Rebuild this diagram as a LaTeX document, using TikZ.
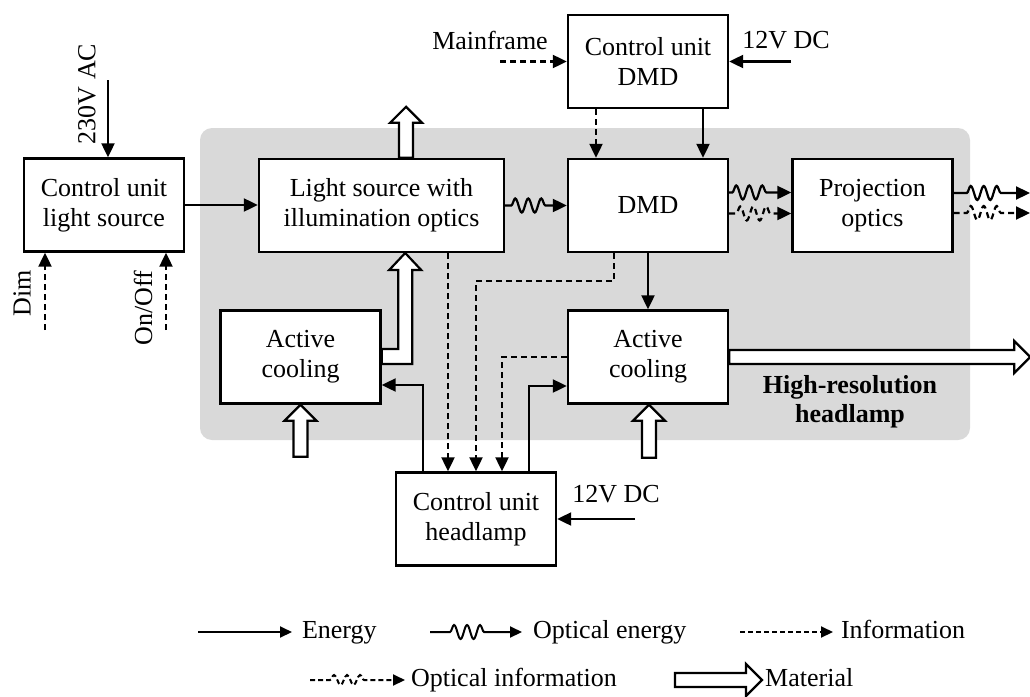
\documentclass[tikz,border=0pt]{standalone}
\usepackage{fontspec}
\setmainfont{Liberation Serif}
\usetikzlibrary{arrows.meta,positioning,calc,decorations.pathmorphing}
\definecolor{hlGray}{RGB}{217,217,217}
\tikzset{
  block/.style={draw, fill=white, line width=2.4pt, align=center,
                minimum width=160pt, minimum height=93pt, inner sep=2pt},
  energy/.style={line width=2.2pt, -{Triangle[length=14pt,width=13pt]}},
  info/.style={energy, dash pattern=on 6pt off 4pt},
  legarrow/.style={line width=2pt, -{Triangle[length=12pt,width=11pt]}},
  leginfo/.style={legarrow, dash pattern=on 5pt off 3pt},
  optwave/.style 2 args={decorate, decoration={snake, amplitude=7pt,
                segment length=13pt, pre length=#1, post length=#2}},
  material/.style={draw, fill=white, line width=2.2pt, line join=miter},
  lbl/.style={inner sep=2pt},
  leglbl/.style={lbl, text height=18pt, text depth=6pt},
  pics/matarrow/.style={code={
    \draw[material] (0,-7) -- ({#1-16},-7) -- ({#1-16},-16) -- (#1,0)
      -- ({#1-16},16) -- ({#1-16},7) -- (0,7) -- cycle;}}
}

\begin{document}
\begin{tikzpicture}[x=1pt, y=-1pt, font=\fontsize{26}{30}\selectfont]
\useasboundingbox (0,0) rectangle (1030,696);
% headlamp housing
\fill[hlGray, rounded corners=12pt] (200,128) rectangle (970,440);

% blocks
\node[block] (culs) at (104,205) {Control unit\\light source};
\node[block, minimum width=245pt] (lsrc) at (381.5,205.5) {Light source with\\illumination optics};
\node[block] (dmd) at (648,205.5) {DMD};
\node[block] (proj) at (872.5,205.5) {Projection\\optics};
\node[block] (cudmd) at (648,61.5) {Control unit\\DMD};
\node[block] (acl) at (300.5,357) {Active\\cooling};
\node[block] (acr) at (648,357) {Active\\cooling};
\node[block] (cuhl) at (476,519) {Control unit\\headlamp};
\node[lbl, align=center, font=\fontsize{26}{29}\selectfont\bfseries] (hrlbl) at (850,402) {High-resolution\\headlamp};

% outside inputs
\coordinate (ac) at (108,80);
\coordinate (dim) at (45,330);
\coordinate (onoff) at (166,330);
\coordinate (mf) at (500,61.5);
\coordinate (vdmd) at (791,61.5);
\coordinate (vhl) at (635,519);
\draw[energy] (ac) -- (ac |- culs.north);
\draw[info] (dim) -- (dim |- culs.south);
\draw[info] (onoff) -- (onoff |- culs.south);
\draw[info] (mf) -- (cudmd.west);
\draw[energy] (vdmd) -- (cudmd.east);
\draw[energy] (vhl) -- (cuhl.east);
\node[lbl, rotate=90] (aclbl) at (87,94) {230V AC};
\node[lbl, rotate=90] (dimlbl) at (22,293) {Dim};
\node[lbl, rotate=90] (onofflbl) at (143,308) {On/Off};
\node[lbl] (mflbl) at (490,40) {Mainframe};
\node[lbl] (vdmdlbl) at (786,40) {12V DC};
\node[lbl] (vhllbl) at (616,494) {12V DC};

% energy and information flows
\draw[energy] (culs.east) -- (culs.east -| lsrc.west);
\draw[info] ($(cudmd.south)+(-52,0)$) -- ($(dmd.north)+(-52,0)$);
\draw[energy] ($(cudmd.south)+(55,0)$) -- ($(dmd.north)+(55,0)$);
\draw[energy] (dmd) -- (acr);
\draw[info] ($(lsrc.south)+(66.5,0)$) coordinate (lsd) -- (lsd |- cuhl.north);
\draw[info] ($(dmd.south)+(-34,0)$) |- ($(cuhl.north)+(0,-190)$) -- (cuhl.north);
\draw[info] (acr.west) -| ($(cuhl.north)+(26,0)$);
\draw[energy] ($(cuhl.north)+(53,0)$) |- ($(acr.west)+(0,29)$);
\draw[energy] ($(cuhl.north)+(-53,0)$) |- ($(acl.east)+(0,28)$);

% optical flows
\coordinate (outa) at (1030,193);
\coordinate (outb) at (1030,213);
\draw[energy, optwave={6pt}{20pt}] (lsrc.east) -- (dmd.west);
\draw[energy, optwave={3pt}{19pt}] ($(dmd.east)+(0,-13)$) -- ($(proj.west)+(0,-13)$);
\draw[info, optwave={7pt}{17pt}] ($(dmd.east)+(0,8)$) -- ($(proj.west)+(0,8)$);
\draw[energy, optwave={13pt}{25pt}] (proj.east |- outa) -- (outa);
\draw[info, optwave={13pt}{25pt}] (proj.east |- outb) -- (outb);

% material flows
\pic[rotate=90] at ($(lsrc.north)+(24.5,0)$) {matarrow=51};
\pic[rotate=90] at ($(acl.south)+(0,52)$) {matarrow=52};
\pic[rotate=90] at ($(acr.south)+(1,53)$) {matarrow=53};
\pic at (acr.east) {matarrow=301};
\draw[material] ($(acl.east)+(0,-8)$) -- ++(16.5,0) -- ++(0,-79) -- ++(-9,0)
  -- ++(16,-17) -- ++(16,17) -- ++(-9,0) -- ++(0,94) -- ++(-30.5,0) -- cycle;

% legend
\coordinate (le1) at (198,632);
\coordinate (lo1) at (430,632);
\coordinate (li1) at (740,632);
\coordinate (lq1) at (310,680);
\coordinate (lm1) at (675,680);
\draw[legarrow] (le1) -- ++(94,0) node[leglbl, right=7pt] (lenergy) {Energy};
\draw[legarrow, optwave={20pt}{32pt}] (lo1) -- ++(92,0) node[leglbl, right=8pt] (lopt) {Optical energy};
\draw[leginfo] (li1) -- ++(93,0) node[leglbl, right=5pt] (linfo) {Information};
\draw[leginfo, optwave={20pt}{38pt}, decoration={amplitude=5pt}] (lq1) -- ++(95,0) node[leglbl, right=3pt] (loptinfo) {Optical information};
\pic at (lm1) {matarrow=87};
\node[leglbl, right=88pt of lm1, anchor=west] (lmat) {Material};
\end{tikzpicture}
\end{document}
